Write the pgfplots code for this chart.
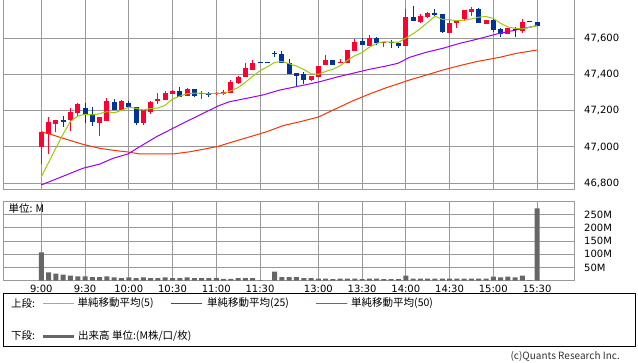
\documentclass[border=0pt]{standalone}
\usepackage{fontspec}
\setmainfont{DejaVu Sans}
\newfontfamily\cjk{Noto Sans CJK JP}
\usepackage{pgfplots}
\usepackage{pgfplotstable}
\pgfplotsset{compat=1.18}
\definecolor{cred}{RGB}{255,0,51}
\definecolor{cblue}{RGB}{0,51,153}
\definecolor{mafive}{RGB}{153,204,0}
\definecolor{matwentyfive}{RGB}{153,0,255}
\definecolor{mafifty}{RGB}{255,51,0}
\definecolor{gridc}{RGB}{153,153,153}
\definecolor{volc}{RGB}{102,102,102}

\pgfplotstableread{
i o h l c
0 46997 47088 46905 47084
1 47070 47165 46961 47138
2 47128 47149 47080 47149
3 47147 47172 47110 47138
4 47149 47214 47088 47194
5 47186 47244 47172 47238
6 47214 47243 47132 47182
7 47181 47222 47115 47135
8 47134 47167 47060 47167
9 47145 47269 47145 47252
10 47248 47264 47206 47206
11 47204 47259 47196 47252
12 47244 47252 47215 47222
13 47218 47223 47121 47134
14 47134 47204 47121 47204
15 47193 47254 47182 47248
16 47256 47299 47237 47265
17 47259 47309 47259 47298
18 47294 47314 47294 47310
19 47310 47331 47278 47278
20 47281 47323 47281 47319
21 47319 47319 47276 47281
22 47290 47310 47262 47299
23 47298 47303 47278 47289
24 47292 47306 47288 47299
25 47292 47314 47287 47305
26 47299 47370 47299 47360
27 47353 47390 47350 47386
28 47386 47465 47386 47434
29 47425 47482 47425 47465
30 47462 47462 47462 47462
31 47462 47462 47462 47462
32 47519 47531 47499 47512
33 47512 47531 47461 47461
34 47461 47488 47403 47403
35 47408 47408 47338 47394
36 47400 47415 47350 47370
37 47370 47392 47366 47392
38 47388 47447 47385 47447
39 47452 47508 47452 47480
40 47480 47480 47455 47455
41 47462 47484 47462 47471
42 47462 47535 47462 47535
43 47530 47594 47530 47581
44 47587 47599 47563 47565
45 47557 47620 47557 47602
46 47602 47607 47563 47576
47 47572 47582 47554 47580
48 47580 47591 47545 47572
49 47576 47578 47545 47559
50 47559 47762 47559 47719
51 47719 47778 47697 47697
52 47690 47734 47683 47725
53 47716 47747 47710 47741
54 47741 47762 47716 47729
55 47734 47734 47629 47633
56 47628 47701 47628 47686
57 47686 47697 47655 47697
58 47705 47756 47697 47756
59 47744 47775 47723 47762
60 47760 47767 47686 47686
61 47679 47701 47679 47701
62 47701 47707 47636 47646
63 47651 47659 47606 47622
64 47622 47659 47622 47659
65 47651 47664 47609 47646
66 47642 47707 47631 47688
67 47688 47688 47688 47688
68 47688 47688 47670 47670
}\ohlc

\pgfplotstableread{
i v
0 46835
1 46914
2 46994
3 47071
4 47141
5 47171
6 47180
7 47177
8 47183
9 47195
10 47188
11 47202
12 47220
13 47213
14 47204
15 47212
16 47215
17 47230
18 47265
19 47280
20 47294
21 47297
22 47297
23 47293
24 47297
25 47295
26 47310
27 47328
28 47357
29 47390
30 47421
31 47442
32 47467
33 47472
34 47460
35 47446
36 47428
37 47404
38 47401
39 47417
40 47429
41 47449
42 47478
43 47504
44 47521
45 47551
46 47572
47 47581
48 47579
49 47578
50 47601
51 47625
52 47654
53 47688
54 47722
55 47705
56 47703
57 47697
58 47700
59 47707
60 47717
61 47720
62 47710
63 47683
64 47663
65 47655
66 47652
67 47661
68 47670
}\mafive

\pgfplotstableread{
i v
0 46790
3.43 46845
5.72 46882
8.01 46905
9.84 46937
11.89 46961
13.5 47001
15.78 47056
18.07 47103
20.36 47149
22.63 47194
24.24 47226
25.84 47250
28.12 47268
30.41 47287
32.7 47314
34.98 47333
36.58 47346
38.19 47360
40.47 47385
42.76 47407
45.05 47429
47.33 47447
48.93 47462
50.53 47495
52.81 47523
55.1 47545
57.39 47572
59.67 47594
62.88 47628
65.16 47646
68 47670
}\matwentyfive

\pgfplotstableread{
i v
0 47084
1.15 47071
3.43 47042
5.72 47014
8.01 46992
10.29 46979
11.89 46972
13.5 46961
18.07 46961
20.36 46973
22.63 46990
24.24 47003
26.35 47029
28.63 47056
30.92 47084
33.2 47118
35.49 47139
38 47165
40.05 47204
42.76 47255
45.05 47293
47.33 47327
48.93 47348
50.53 47370
52.81 47397
55.1 47425
57.39 47449
59.67 47471
62.88 47495
65.16 47517
68 47535
}\mafifty

\pgfplotstableread{
i v
0 107
1 31
2 26
3 22
4 19
5 16
6 16
7 13
8 13
9 16
10 12
11 9
12 12
13 9
14 12
15 9
16 9
17 12
18 9
19 9
20 12
21 9
22 9
23 9
24 9
25 6
26 6
27 9
28 9
29 9
30 1
31 0
32 34
33 13
34 13
35 13
36 9
37 9
38 7
39 7
40 5
41 7
42 7
43 7
44 5
45 7
46 7
47 5
48 5
49 5
50 19
51 7
52 7
53 7
54 7
55 7
56 7
57 7
58 7
59 7
60 7
61 7
62 15
63 12
64 15
65 12
66 19
67 1
68 275
}\vol

\pgfplotsset{
  basepanel/.style={
    scale only axis, width=571pt,
    xmin=-5.254, xmax=73.07,
    axis line style={gridc, line width=1pt},
    grid=major, major grid style={gridc, line width=1pt},
    major tick length=0pt,
    xtick={0,6,12,18,24,30,38,44,50,56,62,68},
    ticklabel style={font=\fontsize{10}{12}\selectfont},
    yticklabel pos=right,
    yticklabel style={xshift=6.7pt},
    scaled y ticks=false,
    /pgf/number format/assume math mode=true,
  }
}

\begin{document}
\begin{tikzpicture}
\useasboundingbox (0pt,0pt) rectangle (638pt,362pt);

\begin{axis}[basepanel, at={(3pt,172pt)}, anchor=south west, height=190pt,
  ymin=46761.85, ymax=47811.6,
  ytick={46800,47000,47200,47400,47600},
  xticklabels={},
  yticklabel style={/pgf/number format/.cd, 1000 sep={,}}]
% wicks
\addplot[draw=none, mark=none,
  restrict expr to domain={\thisrow{c}-\thisrow{o}}{0.5:100000},
  error bars/.cd, y dir=both, y explicit, error mark=none,
  error bar style={draw=cred, line width=1pt}]
  table[x=i, y=l, y error plus expr={\thisrow{h}-\thisrow{l}}, y error minus expr={0}] {\ohlc};
\addplot[draw=none, mark=none,
  restrict expr to domain={\thisrow{o}-\thisrow{c}}{0:100000},
  error bars/.cd, y dir=both, y explicit, error mark=none,
  error bar style={draw=cblue, line width=1pt}]
  table[x=i, y=l, y error plus expr={\thisrow{h}-\thisrow{l}}, y error minus expr={0}] {\ohlc};
% bodies
\addplot[draw=none, mark=none,
  restrict expr to domain={\thisrow{c}-\thisrow{o}}{0.5:100000},
  error bars/.cd, y dir=both, y explicit, error mark=none,
  error bar style={draw=cred, line width=5pt}]
  table[x=i, y=o, y error plus expr={max(\thisrow{c}-\thisrow{o},5.5)}, y error minus expr={0}] {\ohlc};
\addplot[draw=none, mark=none,
  restrict expr to domain={\thisrow{o}-\thisrow{c}}{0:100000},
  error bars/.cd, y dir=both, y explicit, error mark=none,
  error bar style={draw=cblue, line width=5pt}]
  table[x=i, y=c, y error plus expr={max(\thisrow{o}-\thisrow{c},5.5)}, y error minus expr={0}] {\ohlc};
% moving averages
\addplot[mafifty, line width=1pt, mark=none] table[x=i, y=v] {\mafifty};
\addplot[matwentyfive, line width=1pt, mark=none] table[x=i, y=v] {\matwentyfive};
\addplot[mafive, line width=1pt, mark=none] table[x=i, y=v] {\mafive};
\end{axis}

\begin{axis}[basepanel, at={(3pt,81.5pt)}, anchor=south west, height=78.8pt,
  ymin=0, ymax=300,
  ytick={50,100,150,200,250},
  yticklabels={50M,100M,150M,200M,250M},
  xticklabels={9:00,9:30,10:00,10:30,11:00,11:30,13:00,13:30,14:00,14:30,15:00,15:30},
  xticklabel style={yshift=-1.5pt}]
\addplot[ybar, bar width=5pt, fill=volc, draw=none] table[x=i, y=v] {\vol};
\node[anchor=west, inner sep=0pt, font=\cjk\fontsize{10.5}{12}\selectfont] at (rel axis cs:0.0093,0.911) {単位: M};
\end{axis}

% legend box
\draw[black, line width=1pt] (3.5pt,15.5pt) rectangle (635.5pt,68.5pt);
\begin{scope}[every node/.style={anchor=west, inner sep=0pt, font=\cjk\fontsize{10.5}{12}\selectfont}]
\node at (11pt,58.7pt) {上段:};
\draw[mafive, line width=1pt] (43pt,58.7pt) -- (73.5pt,58.7pt);
\node at (77.5pt,58.7pt) {単純移動平均(5)};
\draw[matwentyfive, line width=1pt] (171pt,58.7pt) -- (202pt,58.7pt);
\node at (207pt,58.7pt) {単純移動平均(25)};
\draw[mafifty, line width=1pt] (316pt,58.7pt) -- (347pt,58.7pt);
\node at (351pt,58.7pt) {単純移動平均(50)};
\node at (11pt,26pt) {下段:};
\draw[volc, line width=3pt] (43pt,26pt) -- (73.5pt,26pt);
\node at (78pt,26pt) {出来高 単位:(M株/口/枚)};
\end{scope}
\node[anchor=base east, inner sep=0pt, text={rgb,255:red,51;green,51;blue,51}, font=\cjk\fontsize{10}{12}\selectfont] at (620pt,2pt) {(c)Quants Research Inc.};
\end{tikzpicture}
\end{document}
